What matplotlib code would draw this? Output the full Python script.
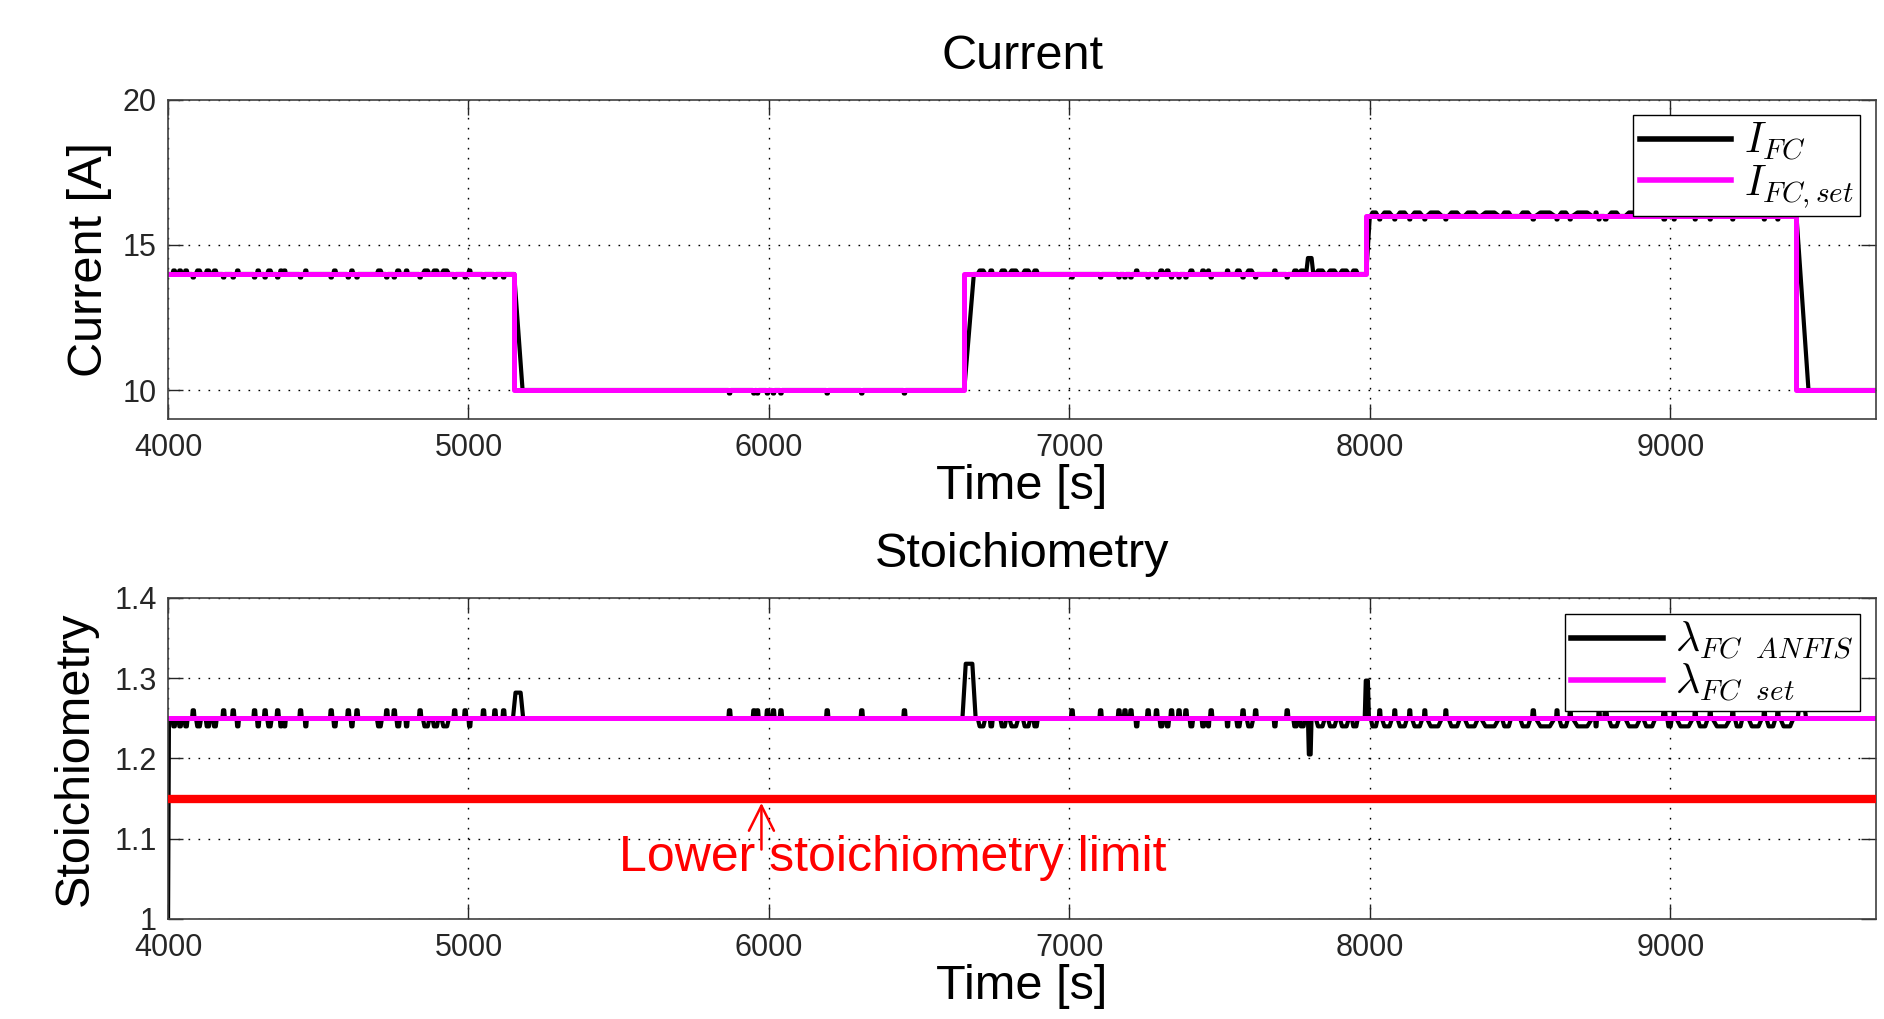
import numpy as np
import matplotlib.pyplot as plt
from matplotlib.ticker import FixedLocator

plt.rcParams['font.family'] = 'Liberation Sans'
plt.rcParams['mathtext.fontset'] = 'cm'

#_______________________________________________________________________________
# Data

T_END = 9685

# Current set point steps
set_t = [4000, 5152, 6648, 7988, 9417, T_END]
set_i = [14, 10, 14, 16, 10, 10]

# Measured current, main breakpoints (it lags the set point a little)
ifc_t = [4000, 5152, 5180, 6650, 6682, 7988, 8000, 9420, 9460, T_END]
ifc_v = [14, 14, 10, 10, 14, 14, 16, 16, 10, 10]

# Stoichiometry set point and measured baseline
lam_set = 1.25
lam_t = [4000, 4003, T_END]
lam_v = [1.0, 1.25, 1.25]

# Lower stoichiometry limit
lam_limit = 1.15

# Short excursions (start, end): lambda goes up to 1.26 / current dips
up_blips = [
    (4080, 4088), (4181, 4189), (4213, 4221), (4284, 4292), (4319, 4327), (4361, 4369),
    (4437, 4445), (4539, 4547), (4596, 4604), (4625, 4633), (4724, 4732), (4749, 4757),
    (4835, 4843), (4950, 4958), (4985, 4993), (5046, 5054), (5084, 5092), (5113, 5121),
    (5865, 5873), (5946, 5954), (5958, 5966), (5991, 5999), (6011, 6019), (6036, 6044),
    (6190, 6198), (6305, 6313), (6447, 6455),
    (7005, 7013), (7100, 7108), (7161, 7169), (7181, 7189), (7201, 7209), (7258, 7266),
    (7286, 7294), (7336, 7344), (7361, 7369), (7384, 7392), (7468, 7476), (7574, 7582),
    (7616, 7624), (7721, 7729),
    (8030, 8036), (8080, 8086), (8130, 8136), (8180, 8186), (8250, 8256), (8540, 8548),
    (8620, 8626), (8664, 8670), (8760, 8766), (8780, 8790), (8975, 8985), (9010, 9016),
    (9080, 9086), (9130, 9136), (9205, 9211), (9310, 9316), (9355, 9361),
]
# lambda goes down to 1.24 / current rises
dn_blips = [
    (4015, 4025), (4035, 4045), (4055, 4065), (4093, 4110), (4125, 4140), (4150, 4162),
    (4228, 4236), (4296, 4304), (4330, 4345), (4372, 4380), (4384, 4392), (4455, 4462),
    (4550, 4560), (4608, 4616), (4695, 4712), (4760, 4772), (4790, 4798), (4848, 4870),
    (4880, 4900), (4910, 4935), (5000, 5008),
    (6695, 6720), (6735, 6745), (6770, 6790), (6800, 6830), (6845, 6870), (6880, 6895),
    (7220, 7228), (7300, 7312), (7322, 7332), (7400, 7412), (7440, 7450), (7460, 7466),
    (7523, 7530), (7555, 7570), (7590, 7612), (7680, 7688), (7745, 7760), (7766, 7784),
    (7820, 7850), (7860, 7890), (7900, 7930), (7940, 7960),
    (8003, 8026), (8040, 8074), (8092, 8124), (8140, 8175), (8190, 8240), (8262, 8300),
    (8315, 8360), (8370, 8430), (8440, 8470), (8500, 8535), (8552, 8615), (8630, 8660),
    (8675, 8740), (8750, 8756), (8795, 8830), (8850, 8900), (8910, 8950), (8990, 9005),
    (9020, 9075), (9090, 9125), (9140, 9200), (9215, 9240), (9260, 9305), (9320, 9350),
    (9366, 9410),
]
lam_hi, lam_lo = 1.26, 1.24
cur_step = 0.12   # size of the current ripple around its level

# Larger spikes (start, end, peak value)
lam_spikes = [(5148, 5182, 1.282), (6644, 6688, 1.318), (7794, 7806, 1.205),
              (7983, 7997, 1.297), (9424, 9452, 1.27)]
ifc_spikes = [(7788, 7812, 14.55)]

#_______________________________________________________________________________
# Helpers

def build_trace(base_t, base_v, pulses):
    """ Baseline breakpoints plus (start, end, value) pulses -> one sorted line. """
    pts = list(zip(base_t, base_v))
    for a, b, v in pulses:
        r = max(1.0, 0.25 * (b - a))
        pts += [(a, np.interp(a, base_t, base_v)), (a + r, v),
                (b - r, v), (b, np.interp(b, base_t, base_v))]
    pts.sort(key=lambda p: p[0])
    t, y = zip(*pts)
    return np.array(t), np.array(y)


def current_pulses(blips, sign):
    out = []
    for a, b in blips:
        base = np.interp(0.5 * (a + b), ifc_t, ifc_v)
        out.append((a, b, base + sign * cur_step))
    return out


def style_axes(ax, xlabel, ylabel, title):
    ax.set_xlim(4000, T_END)
    ax.grid(True, color='black', linestyle=(0, (1.2, 6)), linewidth=1.0)
    ax.tick_params(direction='in', length=11, width=1.0, top=True, right=True,
                   labelsize=22, colors='#262626')
    ax.tick_params(axis='x', pad=10)
    ax.tick_params(axis='y', pad=8)
    ax.xaxis.set_major_locator(FixedLocator([4000, 5000, 6000, 7000, 8000, 9000]))
    for s in ax.spines.values():
        s.set_color('#404040')
        s.set_linewidth(1.2)
    ax.set_xlabel(xlabel, fontsize=35, labelpad=1)
    ax.set_ylabel(ylabel, fontsize=35)
    ax.set_title(title, fontsize=35, pad=22)


def add_legend(ax, anchor):
    leg = ax.legend(loc='upper right', bbox_to_anchor=anchor, borderaxespad=0,
                    fontsize=30, fancybox=False, edgecolor='black', framealpha=1,
                    handlelength=2.2, handletextpad=0.3, labelspacing=0.0,
                    borderpad=0.15)
    leg.get_frame().set_linewidth(1.0)
    for line in leg.get_lines():
        line.set_linewidth(4)
    return leg


#_______________________________________________________________________________
# Plotting

fig = plt.figure(figsize=(18.84, 10.19), dpi=100)
ax1 = fig.add_axes([0.0892, 0.5888, 0.9066, 0.3131])
ax2 = fig.add_axes([0.0892, 0.0982, 0.9066, 0.3150])

# Current
pulses = current_pulses(up_blips, -1) + current_pulses(dn_blips, +1) + ifc_spikes
t_i, y_i = build_trace(ifc_t, ifc_v, pulses)
ax1.plot(t_i, y_i, color='black', linewidth=3.0, label=r'$I_{FC}$')
ax1.plot(set_t, set_i, color='#ff00ff', linewidth=3.6, drawstyle='steps-post',
         label=r'$I_{FC,set}$')
ax1.set_ylim(9, 20)
ax1.yaxis.set_major_locator(FixedLocator([10, 15, 20]))
style_axes(ax1, 'Time [s]', 'Current [A]', 'Current')
ax1.yaxis.set_label_coords(-0.033, 0.5)
add_legend(ax1, (0.9906, 0.953))

# Stoichiometry
pulses = ([(a, b, lam_hi) for a, b in up_blips] + [(a, b, lam_lo) for a, b in dn_blips]
          + lam_spikes)
t_l, y_l = build_trace(lam_t, lam_v, pulses)
ax2.plot(t_l, y_l, color='black', linewidth=3.0, label=r'$\lambda_{FC\ \ ANFIS}$')
ax2.plot([4000, T_END], [lam_set, lam_set], color='#ff00ff', linewidth=3.6,
         label=r'$\lambda_{FC\ \ set}$')
ax2.plot([4000, T_END], [lam_limit, lam_limit], color='#ff0000', linewidth=6, zorder=3)
ax2.set_ylim(1, 1.4)
ax2.yaxis.set_major_locator(FixedLocator([1, 1.1, 1.2, 1.3, 1.4]))
ax2.set_yticklabels(['1', '1.1', '1.2', '1.3', '1.4'])
style_axes(ax2, 'Time [s]', 'Stoichiometry', 'Stoichiometry')
ax2.yaxis.set_label_coords(-0.041, 0.5)
add_legend(ax2, (0.9906, 0.950))

# Annotation for the limit
ax2.annotate('', xy=(5975, 1.148), xytext=(5975, 1.083),
             arrowprops=dict(arrowstyle='->', color='#ff0000', lw=1.8, mutation_scale=45))
ax2.text(6413, 1.06, 'Lower stoichiometry limit', color='#ff0000', fontsize=36,
         ha='center', va='baseline')

fig.savefig('out.png', dpi=100)
